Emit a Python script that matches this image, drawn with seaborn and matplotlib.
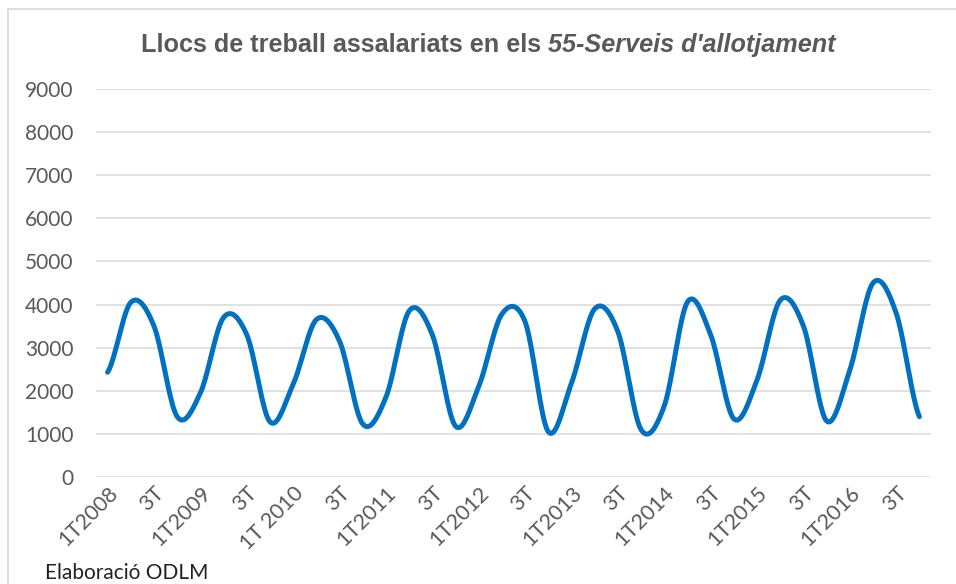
import numpy as np
import pandas as pd
import matplotlib.pyplot as plt
import seaborn as sns
from matplotlib.lines import Line2D

quarters = ['1T', '2T', '3T', '4T']
years = [2008, 2009, 2010, 2011, 2012, 2013, 2014, 2015, 2016]
categories = [f'{q}{y}' for y in years for q in quarters]

llocs = [2430, 4050, 3500, 1400,
         1950, 3700, 3300, 1280,
         2150, 3650, 3150, 1230,
         1850, 3850, 3300, 1180,
         2100, 3780, 3600, 1050,
         2180, 3900, 3370, 1100,
         1650, 4060, 3300, 1350,
         2250, 4100, 3500, 1300,
         2480, 4500, 3800, 1400]

tick_labels = ['1T2008', '3T', '1T2009', '3T', '1T 2010', '3T', '1T2011', '3T',
               '1T2012', '3T', '1T2013', '3T', '1T2014', '3T', '1T2015', '3T',
               '1T2016', '3T']

df = pd.DataFrame({'trimestre': categories, 'llocs': llocs})
df['pos'] = np.arange(len(df))


# excel-like smoothed line (catmull-rom between the data points)
def smooth(x, y, n=20):
    yy = np.concatenate([[y[0]], y, [y[-1]]])
    xs, ys = [], []
    t = np.linspace(0, 1, n, endpoint=False)
    for i in range(len(y) - 1):
        p0, p1, p2, p3 = yy[i], yy[i + 1], yy[i + 2], yy[i + 3]
        seg = 0.5 * ((2 * p1) + (-p0 + p2) * t + (2 * p0 - 5 * p1 + 4 * p2 - p3) * t**2
                     + (-p0 + 3 * p1 - 3 * p2 + p3) * t**3)
        xs.extend(x[i] + t * (x[i + 1] - x[i]))
        ys.extend(seg)
    xs.append(x[-1])
    ys.append(y[-1])
    return np.array(xs), np.array(ys)


sx, sy = smooth(df['pos'].values.astype(float), df['llocs'].values.astype(float))

sns.set_style('white')
plt.rcParams['font.family'] = ['Lato', 'DejaVu Sans']

fig = plt.figure(figsize=(9.56, 5.84), dpi=100)
ax = fig.add_axes([96 / 956, 1 - 477 / 584, (931 - 96) / 956, (477 - 89) / 584])

sns.lineplot(x=sx, y=sy, sort=False, color='#0070C0', linewidth=3.6, ax=ax)

ax.set_xlim(-0.5, len(categories) - 0.5)
ax.set_ylim(0, 9000)
ax.set_yticks(range(0, 9001, 1000))
ax.yaxis.grid(True, color='#D9D9D9', linewidth=1.1)
ax.set_axisbelow(True)
for s in ax.spines.values():
    s.set_visible(False)

ax.set_xticks(df['pos'][::2])
ax.set_xticklabels(tick_labels, rotation=45, ha='right', va='top',
                   rotation_mode='anchor')
ax.tick_params(axis='x', length=0, pad=4, labelsize=15.5, labelcolor='#595959')
ax.tick_params(axis='y', length=0, pad=16, labelsize=15, labelcolor='#595959')
ax.set_xlabel('')
ax.set_ylabel('')

# title: normal part + italic part
fig.canvas.draw()
r = fig.canvas.get_renderer()
t1 = fig.text(0, 1 - 45 / 584, 'Llocs de treball assalariats en els ', fontsize=18.2,
              fontweight='bold', color='#595959', family='Liberation Sans', va='center')
t2 = fig.text(0, 1 - 45 / 584, '55-Serveis d\'allotjament', fontsize=18.2,
              fontweight='bold', fontstyle='italic', color='#595959',
              family='Liberation Sans', va='center')
w1 = t1.get_window_extent(r).width
w2 = t2.get_window_extent(r).width
x0 = 488.5 - (w1 + w2) / 2
t1.set_x(x0 / 956)
t2.set_x((x0 + w1) / 956)

# chart border (left and top visible)
fig.add_artist(Line2D([8 / 956, 8 / 956], [0, 1 - 9 / 584], color='#D9D9D9', linewidth=1.2))
fig.add_artist(Line2D([8 / 956, 1], [1 - 9 / 584, 1 - 9 / 584], color='#D9D9D9', linewidth=1.2))

fig.text(45 / 956, 1 / 584, 'Elaboració ODLM', fontsize=15, color='#222222',
         va='bottom')

plt.savefig('out.png', dpi=100)
